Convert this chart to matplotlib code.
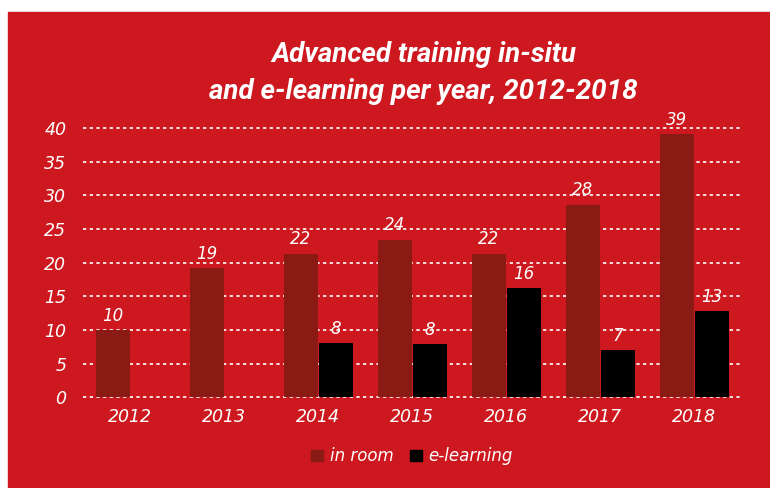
import numpy as np
import matplotlib.pyplot as plt
from matplotlib.patches import Rectangle, Patch

# Datos
years = ['2012', '2013', '2014', '2015', '2016', '2017', '2018']
in_room = [10.0, 19.2, 21.3, 23.4, 21.3, 28.6, 39.1]
in_room_labels = ['10', '19', '22', '24', '22', '28', '39']
e_learning = [0, 0, 8.0, 7.9, 16.2, 7.0, 12.8]
e_learning_labels = ['', '', '8', '8', '16', '7', '13']

bg = '#cc181e'
c_room = '#8a1a14'
c_elearn = '#000000'

plt.rcParams['font.family'] = ['DejaVu Sans']

fig = plt.figure(figsize=(7.7, 4.88), dpi=100)
fig.patch.set_facecolor('white')
fig.patches.append(Rectangle((8 / 770, 0), 1, 1 - 12 / 488,
                             transform=fig.transFigure, color=bg, zorder=-5))

ax = fig.add_axes([83 / 770, 0.1789, 658 / 770, 0.5658])
ax.set_facecolor('none')
ax.set_zorder(2)
ax.set_axisbelow(True)

x = np.arange(len(years))
w = 0.362
ax.bar(x - w / 2, in_room, w, color=c_room, zorder=3, label='in room')
ax.bar(x + w / 2 + 0.01, e_learning, w, color=c_elearn, zorder=3, label='e-learning')

# Etiquetas de valores
for i in range(len(years)):
    ax.text(x[i] - w / 2, in_room[i] + 0.8, in_room_labels[i], ha='center',
            va='bottom', color='white', fontsize=12, style='italic')
    if e_learning_labels[i]:
        ax.text(x[i] + w / 2 + 0.01, e_learning[i] + 0.8, e_learning_labels[i],
                ha='center', va='bottom', color='white', fontsize=12,
                style='italic')

ax.set_xlim(-0.5, 6.5)
ax.set_ylim(-0.5, 40.5)
ax.set_yticks(range(0, 41, 5))
ax.set_xticks(x)
ax.set_xticklabels(years)
ax.tick_params(length=0, colors='white', labelsize=12.5)
ax.tick_params(axis='y', pad=12)
ax.tick_params(axis='x', pad=5)
for lab in ax.get_xticklabels() + ax.get_yticklabels():
    lab.set_style('italic')
for s in ax.spines.values():
    s.set_visible(False)
for v in range(0, 41, 5):
    ax.axhline(v, color='white', linestyle=(0, (2, 2)), linewidth=1.2, zorder=1)

fig.text(0.55, 0.85, 'Advanced training in-situ\nand e-learning per year, 2012-2018',
         ha='center', va='center', color='white', fontsize=20,
         fontweight='bold', style='italic', family='Roboto', linespacing=1.45)

handles = [Patch(color=c_room, label='in room'),
           Patch(color=c_elearn, label='e-learning')]
leg = fig.legend(handles=handles, loc='center', bbox_to_anchor=(0.535, 0.065),
                 ncol=2, frameon=False, handlelength=0.7, handleheight=0.7,
                 handletextpad=0.4, columnspacing=1.0,
                 prop={'size': 12, 'style': 'italic'})
for t in leg.get_texts():
    t.set_color('white')

fig.savefig('out.png', dpi=100)
